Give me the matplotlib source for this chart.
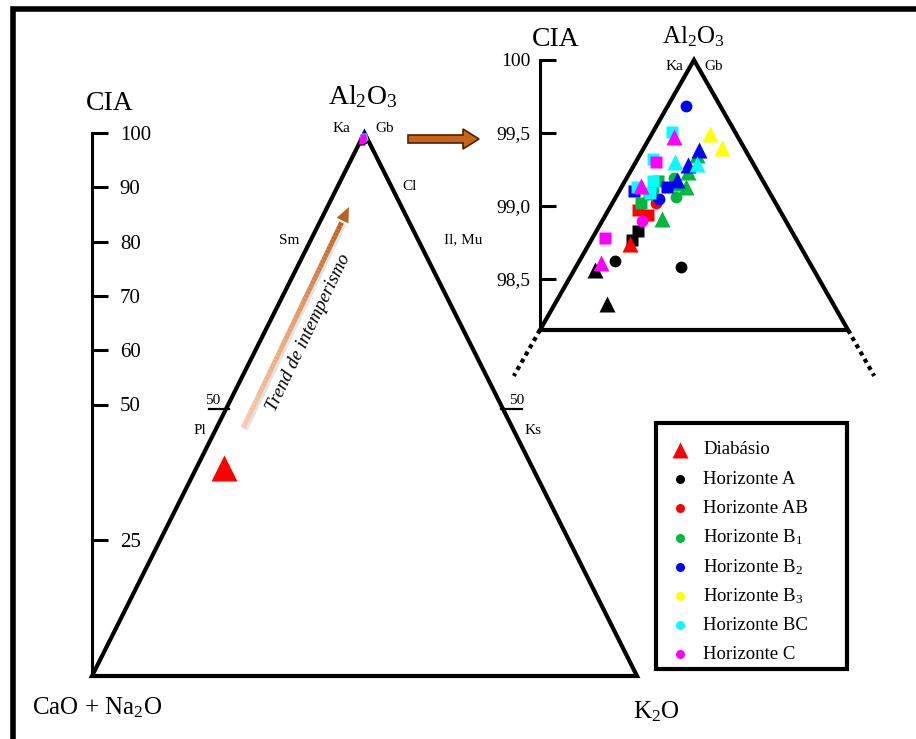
import numpy as np
import matplotlib
matplotlib.use('Agg')
import matplotlib.pyplot as plt
from matplotlib.patches import Rectangle, FancyArrow, Polygon
from matplotlib.collections import LineCollection
from matplotlib.colors import LinearSegmentedColormap

plt.rcParams['font.family'] = ['Liberation Serif', 'DejaVu Serif']
plt.rcParams['mathtext.fontset'] = 'custom'
plt.rcParams['mathtext.rm'] = 'Liberation Serif'
plt.rcParams['mathtext.it'] = 'Liberation Serif:italic'

# horizons / colours
horizons = ['A', 'AB', 'B1', 'B2', 'B3', 'BC', 'C']
hor_colors = ['#000000', '#FF0000', '#00B83C', '#0000FF', '#FFFF00', '#00FFFF', '#FF00FF']
hor_labels = ['Horizonte A', 'Horizonte AB', r'Horizonte B$_\mathrm{1}$',
              r'Horizonte B$_\mathrm{2}$', r'Horizonte B$_\mathrm{3}$',
              'Horizonte BC', 'Horizonte C']

# samples: horizon, profile marker, CIA, K2O/(CaO+Na2O+K2O)
pt_hor = ['A', 'A', 'AB', 'B1', 'B1', 'B1', 'B2', 'B2', 'C',
          'A', 'A', 'AB', 'AB', 'B1', 'B1', 'B1', 'B2', 'B2',
          'BC', 'BC', 'BC', 'BC', 'BC', 'C', 'C',
          'A', 'A', 'AB', 'B1', 'B1', 'B1', 'B1', 'B1', 'B2', 'B2', 'B2',
          'B3', 'B3', 'BC', 'BC', 'C', 'C', 'C']
pt_mk = ['o'] * 9 + ['s'] * 16 + ['^'] * 18
pt_cia = [98.62, 98.58, 99.02, 99.11, 99.06, 99.19, 99.685, 99.05, 98.90,
          98.83, 98.77, 98.97, 98.94, 99.02, 99.08, 99.17, 99.10, 99.13,
          99.51, 99.32, 99.13, 99.17, 99.09, 99.30, 98.78,
          98.56, 98.33, 98.74, 98.91, 99.13, 99.23, 99.35, 99.16, 99.38, 99.28, 99.18,
          99.49, 99.40, 99.30, 99.29, 99.47, 99.14, 98.61]
pt_k = [0.157, 0.444, 0.268, 0.226, 0.385, 0.354, 0.348, 0.281, 0.215,
        0.215, 0.195, 0.174, 0.242, 0.173, 0.203, 0.239, 0.097, 0.316,
        0.227, 0.137, 0.104, 0.203, 0.211, 0.171, 0.064,
        0.087, 0.186, 0.194, 0.326, 0.445, 0.455, 0.530, 0.372, 0.552, 0.452, 0.373,
        0.691, 0.778, 0.336, 0.523, 0.275, 0.133, 0.098]

diab_cia = 38.3
diab_k = 0.082

cia_ticks_main = [25, 50, 60, 70, 80, 90, 100]
cia_ticks_zoom = [98.5, 99.0, 99.5, 100]
cia_ticklabels_zoom = ['98,5', '99,0', '99,5', '100']

ZLO = 98.15  # CIA at base of zoomed triangle
W, H = 916, 739


def tern_x(cia, k, base):
    w = (100 - np.asarray(cia, float)) / (100 - base)
    return 0.5 + (np.asarray(k, float) - 0.5) * w


def rect(x0, y0, x1, y1):
    return [x0 / W, 1 - y1 / H, (x1 - x0) / W, (y1 - y0) / H]


fig = plt.figure(figsize=(9.16, 7.39), dpi=100)
fig.patch.set_facecolor('white')

bg = fig.add_axes([0, 0, 1, 1], zorder=0)
bg.set_xlim(0, W)
bg.set_ylim(H, 0)
bg.axis('off')

# outer frame
bg.plot([13, 13, W + 10], [H + 10, 9, 9], color='k', lw=4, solid_joinstyle='miter')

# ---------------- main triangle ----------------
ax = fig.add_axes(rect(92, 133, 637, 676), zorder=2)
ax.set_facecolor('none')
ax.set_xlim(0, 1)
ax.set_ylim(0, 100)
for s in ['top', 'right', 'bottom']:
    ax.spines[s].set_visible(False)
ax.spines['left'].set_linewidth(2.2)
ax.spines['left'].set_bounds(0, 100)
ax.set_xticks([])
ax.set_yticks(cia_ticks_main)
ax.tick_params(axis='y', direction='in', length=11.5, width=2.2, pad=-20, labelsize=15)
for t in ax.get_yticklabels():
    t.set_ha('left')

ax.add_patch(Polygon([[0, 0], [1, 0], [0.5, 100]], closed=True, fill=False,
                     ec='k', lw=3, joinstyle='miter', clip_on=False))
for h, c in zip(horizons, hor_colors):
    for mk in ['o', 's', '^']:
        idx = [i for i in range(len(pt_hor)) if pt_hor[i] == h and pt_mk[i] == mk]
        if not idx:
            continue
        cc = [pt_cia[i] for i in idx]
        kk = [pt_k[i] for i in idx]
        ax.plot(tern_x(cc, kk, 0), cc, mk, color=c, ms=4.5, mec='none',
                clip_on=False, zorder=4)
ax.plot(tern_x(diab_cia, diab_k, 0), diab_cia, '^', color='#FF0000', ms=19, mec='none')

# ---------------- zoomed apex ----------------
az = fig.add_axes(rect(540, 60, 848, 330), zorder=3)
az.set_facecolor('none')
az.set_xlim(0, 1)
az.set_ylim(ZLO, 100)
for s in ['top', 'right', 'bottom']:
    az.spines[s].set_visible(False)
az.spines['left'].set_linewidth(2.2)
az.set_xticks([])
az.set_yticks(cia_ticks_zoom)
az.set_yticklabels(cia_ticklabels_zoom)
az.tick_params(axis='y', direction='in', length=11.5, width=2.2, pad=7, labelsize=14)

az.add_patch(Polygon([[0, ZLO], [1, ZLO], [0.5, 100]], closed=True, fill=False,
                     ec='k', lw=3, joinstyle='miter', clip_on=False))
ext = 0.315
for kside in [0, 1]:
    az.plot([kside, tern_x(ZLO - ext, kside, ZLO)], [ZLO, ZLO - ext], color='k',
            lw=3, ls=(0, (1, 1)), clip_on=False)

msz = {'o': 8.5, 's': 9, '^': 11}
for h, c in zip(horizons, hor_colors):
    for mk in ['o', 's', '^']:
        idx = [i for i in range(len(pt_hor)) if pt_hor[i] == h and pt_mk[i] == mk]
        if not idx:
            continue
        cc = [pt_cia[i] for i in idx]
        kk = [pt_k[i] for i in idx]
        az.plot(tern_x(cc, kk, ZLO), cc, mk, color=c, ms=msz[mk], mec='none', clip_on=False)

# ---------------- labels ----------------
bg.text(110, 103, 'CIA', fontsize=20, ha='center', va='center')
bg.text(363, 97, r'Al$_\mathrm{2}$O$_\mathrm{3}$', fontsize=20, ha='center', va='center')
bg.text(556, 40, 'CIA', fontsize=20, ha='center', va='center')
bg.text(693, 37, r'Al$_\mathrm{2}$O$_\mathrm{3}$', fontsize=18, ha='center', va='center')
bg.text(97, 708, r'CaO + Na$_\mathrm{2}$O', fontsize=18, ha='center', va='center')
bg.text(656, 712, r'K$_\mathrm{2}$O', fontsize=18, ha='center', va='center')

small = [('Ka', 341, 129), ('Gb', 385, 129), ('Cl', 410, 186), ('Sm', 289, 240),
         ('Il, Mu', 463, 240), ('50', 213, 400), ('Pl', 200, 431), ('50', 517, 400),
         ('Ks', 533, 431), ('Ka', 674, 66), ('Gb', 714, 66)]
for s, x, y in small:
    bg.text(x, y, s, fontsize=11, ha='center', va='center')
bg.plot([209, 229], [409, 409], color='k', lw=1.6)
bg.plot([501, 522], [409, 409], color='k', lw=1.6)

# weathering trend arrow with gradient
tail = np.array([243.0, 428.0])
head = np.array([349.0, 207.0])
n = 60
tt = np.linspace(0, 0.93, n + 1)
pts = tail + np.outer(tt, head - tail)
segs = np.stack([pts[:-1], pts[1:]], axis=1)
cmap = LinearSegmentedColormap.from_list('tr', ['#F8CBAD', '#E8A070', '#C0631F'])
bg.add_collection(LineCollection(segs + np.array([2.5, 1.5]), colors='#cfcfcf', lw=3.5, alpha=0.6, zorder=1))
bg.add_collection(LineCollection(segs, colors=cmap(np.linspace(0, 1, n)), lw=3.5,
                                 capstyle='butt', zorder=2))
d = (head - tail) / np.linalg.norm(head - tail)
nrm = np.array([-d[1], d[0]])
base = head - d * 15
bg.add_patch(Polygon([head, base + nrm * 6.5, base - nrm * 6.5], closed=True,
                     fc='#BE5F1C', ec='none', zorder=3))
bg.text(309, 333, 'Trend de intemperismo', fontsize=13.5, style='italic',
        rotation=64.3, ha='center', va='center', rotation_mode='anchor')

# arrow towards zoom
bg.add_patch(FancyArrow(408, 139, 71, 0, width=8, head_width=20, head_length=16,
                        length_includes_head=True, fc='#C8651B', ec='#4a2205', lw=1.2))

# ---------------- legend ----------------
bg.add_patch(Rectangle((656, 423), 191, 246, fill=True, fc='white', ec='k', lw=3,
                       joinstyle='miter', zorder=4))
leg_y0, leg_dy = 450, 29.2
bg.plot(680, leg_y0, '^', color='#FF0000', ms=12, mec='none', zorder=5)
bg.text(703, leg_y0, 'Diabásio', fontsize=13.5, ha='left', va='center', zorder=5)
for i, (c, lab) in enumerate(zip(hor_colors, hor_labels)):
    y = leg_y0 + leg_dy * (i + 1)
    bg.plot(680, y, 'o', color=c, ms=6.5, mec='none', zorder=5)
    bg.text(703, y, lab, fontsize=13.5, ha='left', va='center', zorder=5)

fig.savefig('out.png', dpi=100)
